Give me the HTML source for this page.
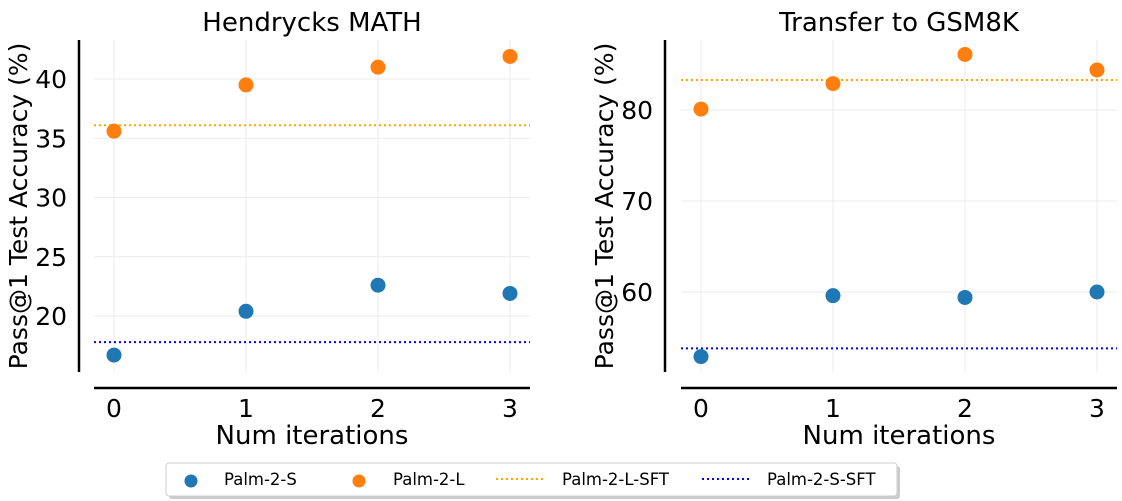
<!DOCTYPE html>
<html><head><meta charset="utf-8"><style>
html,body{margin:0;padding:0;background:#fff;}
svg{display:block;font-family:"DejaVu Sans","Liberation Sans",sans-serif;}
</style></head><body>
<svg id="chart" width="1122" height="501" viewBox="0 0 1122 501"></svg>
<script>
const iterations = [0, 1, 2, 3];
const mathS = [16.7, 20.4, 22.6, 21.9];
const mathL = [35.6, 39.5, 41.0, 41.9];
const mathSFT_L = 36.1;
const mathSFT_S = 17.8;
const mathTicks = [20, 25, 30, 35, 40];
const gsmS = [52.9, 59.6, 59.4, 60.0];
const gsmL = [80.1, 82.9, 86.1, 84.4];
const gsmSFT_L = 83.3;
const gsmSFT_S = 53.8;
const gsmTicks = [60, 70, 80];

const NS = "http://www.w3.org/2000/svg";
const svg = document.getElementById('chart');
function el(tag, attrs, parent, text) {
  const e = document.createElementNS(NS, tag);
  for (const k in attrs) e.setAttribute(k, attrs[k]);
  if (text !== undefined) e.textContent = text;
  (parent || svg).appendChild(e);
  return e;
}

function panel(cfg) {
  const g = el('g', {});
  
  
  const xs = v => cfg.x0 + v * cfg.dx;
  const ys = v => cfg.yRef + (v - cfg.vRef) * cfg.dy;
  const xMin = cfg.x0 - 20, xMax = cfg.x0 + 3 * cfg.dx + 20;
  iterations.forEach(v => {
    const l = el('line', {x1: xs(v), x2: xs(v), y1: 40, y2: 372, stroke: '#ebebeb', 'stroke-width': 1}, g);
    
    
  });
  cfg.ticks.forEach(v => {
    const l = el('line', {x1: xMin, x2: xMax, y1: ys(v), y2: ys(v), stroke: '#ebebeb', 'stroke-width': 1}, g);
    
    
    const t = el('text', {x: cfg.axisX - 12, y: ys(v) + 9, 'text-anchor': 'end', 'font-size': 25, fill: '#000'}, g, String(v));
    
    
  });
  [[cfg.sftL, '#ffa500', 'sft-l-line'], [cfg.sftS, '#0000ff', 'sft-s-line']].forEach(([v, c, n]) => {
    const l = el('line', {x1: xMin, x2: xMax, y1: ys(v), y2: ys(v), stroke: c, 'stroke-width': 2, 'stroke-dasharray': '2,3'}, g);
    
    
  });
  [[cfg.s, '#1f77b4', 'palm-2-s-point'], [cfg.l, '#ff7f0e', 'palm-2-l-point']].forEach(([arr, c, n]) => {
    arr.forEach((v, i) => {
      const p = el('circle', {cx: xs(iterations[i]), cy: ys(v), r: 7.5, fill: c}, g);
      
      
    });
  });
  const ya = el('line', {x1: cfg.axisX, x2: cfg.axisX, y1: 40, y2: 372, stroke: '#000', 'stroke-width': 2.5}, g);
  
  
  const xa = el('line', {x1: cfg.x0 - 20, x2: xMax, y1: 388, y2: 388, stroke: '#000', 'stroke-width': 2.5}, g);
  
  
  iterations.forEach(v => {
    const t = el('text', {x: xs(v), y: 417, 'text-anchor': 'middle', 'font-size': 25}, g, String(v));
    
    
  });
  const xt = el('text', {x: (cfg.x0 + xs(3)) / 2, y: 444, 'text-anchor': 'middle', 'font-size': 26}, g, 'Num iterations');
  
  
  const yt = el('text', {x: 0, y: 0, 'text-anchor': 'middle', 'font-size': 25, transform: `translate(${cfg.axisX - 52},206) rotate(-90)`}, g, 'Pass@1 Test Accuracy (%)');
  
  
  const tt = el('text', {x: (cfg.x0 + xs(3)) / 2, y: 31, 'text-anchor': 'middle', 'font-size': 26}, g, cfg.title);
  
  
}

panel({name: 'math-panel', title: 'Hendrycks MATH', x0: 114, dx: 132, axisX: 79, vRef: 40, yRef: 79, dy: -11.85,
  ticks: mathTicks, s: mathS, l: mathL, sftL: mathSFT_L, sftS: mathSFT_S});
panel({name: 'gsm8k-panel', title: 'Transfer to GSM8K', x0: 701, dx: 132, axisX: 665, vRef: 80, yRef: 110, dy: -9.1,
  ticks: gsmTicks, s: gsmS, l: gsmL, sftL: gsmSFT_L, sftS: gsmSFT_S});

const lg = el('g', {});


el('rect', {x: 169, y: 466, width: 731, height: 33, fill: '#ccc', rx: 3}, lg);
const box = el('rect', {x: 166, y: 463, width: 731, height: 33, fill: '#fff', stroke: '#ccc', 'stroke-width': 1, rx: 3}, lg);


const entries = [
  ['m', '#1f77b4', 'Palm-2-S', 191, 224],
  ['m', '#ff7f0e', 'Palm-2-L', 359, 393],
  ['l', '#ffa500', 'Palm-2-L-SFT', 520, 562],
  ['l', '#0000ff', 'Palm-2-S-SFT', 726, 767],
];
entries.forEach(([k, c, label, x, tx]) => {
  const eg = el('g', {}, lg);
  
  
  if (k === 'm') el('circle', {cx: x, cy: 481, r: 6.5, fill: c}, eg);
  else el('line', {x1: x - 24, x2: x + 24, y1: 479, y2: 479, stroke: c, 'stroke-width': 2, 'stroke-dasharray': '2,3'}, eg);
  el('text', {x: tx, y: 485, 'font-size': 16.5}, eg, label);
});
</script>
</body></html>
